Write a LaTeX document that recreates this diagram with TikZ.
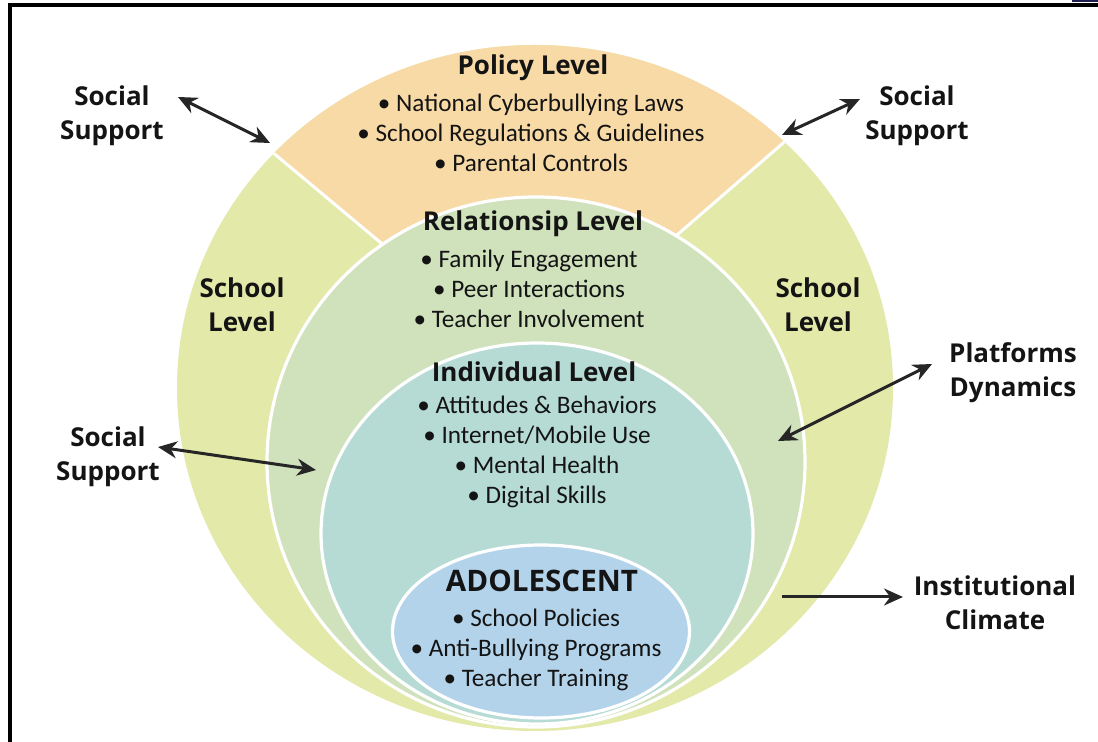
\documentclass[tikz,border=0pt]{standalone}
\usepackage{fontspec}
\setmainfont{Carlito}
\newfontfamily\headfont{Open Sans}
\usetikzlibrary{arrows.meta}
\definecolor{policy}{HTML}{F8DAA6}
\definecolor{school}{HTML}{E3E9A9}
\definecolor{relation}{HTML}{CFE2BC}
\definecolor{indiv}{HTML}{B6DBD5}
\definecolor{adol}{HTML}{B3D3EB}
\definecolor{ink}{HTML}{262626}

\tikzset{
  head/.style={font=\headfont\bfseries\fontsize{13}{17}\selectfont, align=center, text=black!92, inner sep=0pt},
  items/.style={font=\fontsize{12.6}{15}\selectfont, align=center, text=black!92, inner sep=0pt},
  ring/.style={draw=white, line width=1.6pt},
  link/.style={draw=ink, line width=1.5pt, {Stealth[length=9.5pt,width=8.5pt]}-{Stealth[length=9.5pt,width=8.5pt]}},
  onelink/.style={draw=ink, line width=1.5pt, -{Stealth[length=9.5pt,width=8.5pt]}},
}

\begin{document}
\begin{tikzpicture}[x=0.5pt,y=-0.5pt]
  \useasboundingbox (0,0) rectangle (1098,742);
  \fill[white] (0,0) rectangle (1098,742);
  % frame
  \draw[black, line width=2pt] (10,742) -- (10,5) -- (1098,5);
  \fill[ink!80!blue] (1072,0) rectangle (1098,2);

  % outer ring (school) with the policy cap on top
  \fill[school] (535,388) ellipse [x radius=358, y radius=343];
  \begin{scope}
    \clip (535,388) ellipse [x radius=358, y radius=343];
    \fill[policy] (527,365) -- (15,-63) -- (1037,-77) -- cycle;
    \draw[white, line width=1.5pt] (15,-63) -- (527,365) -- (1037,-77);
  \end{scope}

  % inner levels
  \path[ring, fill=relation] (536,462) ellipse [x radius=269, y radius=265];
  \path[ring, fill=indiv] (537,533.5) ellipse [x radius=216, y radius=190.5];
  \path[ring, fill=adol] (541,631.5) ellipse [x radius=148.5, y radius=86.5];

  % policy level
  \node[head] (policy) at (533,68) {Policy Level};
  \node[items] (policyItems) at (531,133) {\textbullet\ National Cyberbullying Laws\\
    \textbullet\ School Regulations \& Guidelines\\ \textbullet\ Parental Controls};

  % relationship level
  \node[head] (rel) at (533,224) {Relationsip Level};
  \node[items] (relItems) at (529,289) {\textbullet\ Family Engagement\\
    \textbullet\ Peer Interactions\\ \textbullet\ Teacher Involvement};

  % individual level
  \node[head] (ind) at (534,372) {Individual Level};
  \node[items] (indItems) at (537,452) {\textbullet\ Attitudes \& Behaviors\\
    \textbullet\ Internet/Mobile Use\\ \textbullet\ Mental Health\\ \textbullet\ Digital Skills};

  % adolescent
  \node[head, font=\headfont\bfseries\fontsize{14.8}{18}\selectfont] (adol) at (542,581) {ADOLESCENT};
  \node[items] (adolItems) at (536,650) {\textbullet\ School Policies\\
    \textbullet\ Anti-Bullying Programs\\ \textbullet\ Teacher Training};

  % school level labels
  \node[head] (schoolL) at (242,305) {School\\Level};
  \node[head] (schoolR) at (818,305) {School\\Level};

  % outside labels
  \node[head] (supTL) at (112,116) {Social\\Support};
  \node[head] (supTR) at (917,116) {Social\\Support};
  \node[head] (supL) at (108,457) {Social\\Support};
  \node[head] (platf) at (1013,373) {Platforms\\Dynamics};
  \node[head] (inst) at (995,603) {Institutional\\Climate};

  % arrow ends
  \coordinate (tlOut) at (178,97);
  \coordinate (tlIn) at (270,143);
  \coordinate (trIn) at (782,135);
  \coordinate (trOut) at (860,99);
  \coordinate (lOut) at (158,447);
  \coordinate (lIn) at (316,470);
  \coordinate (rIn) at (778,441);
  \coordinate (rOut) at (932,364);
  \coordinate (icIn) at (782,597);
  \coordinate (icOut) at (903,597);

  \draw[link] (tlOut) -- (tlIn);
  \draw[link] (trIn) -- (trOut);
  \draw[link] (lOut) -- (lIn);
  \draw[link] (rIn) -- (rOut);
  \draw[onelink] (icIn) -- (icOut);
\end{tikzpicture}
\end{document}
